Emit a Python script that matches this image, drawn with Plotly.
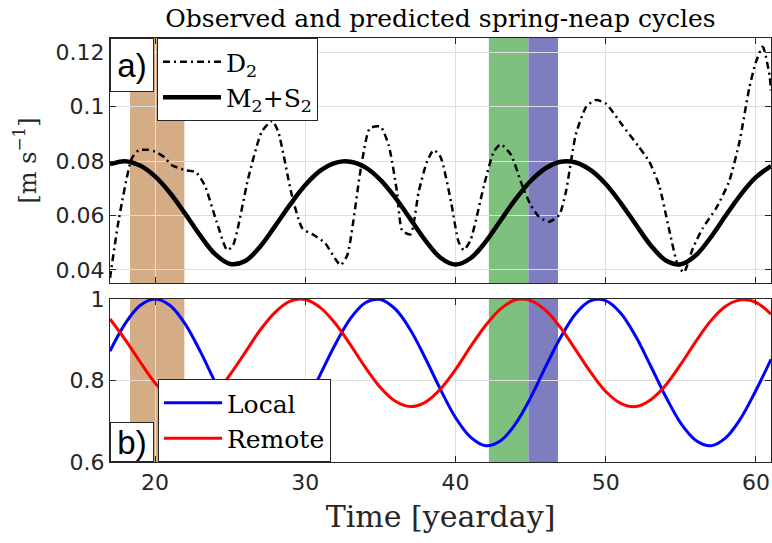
import plotly.graph_objects as go

# ---- data -------------------------------------------------------------
# Daily samples of the predicted spring-neap envelope and the two forcing indices
days = list(range(17, 62))
m2s2 = [0.0789, 0.0800, 0.0784, 0.0744, 0.0683, 0.0607, 0.0527, 0.0458, 0.0422,
        0.0433, 0.0486, 0.0562, 0.0641, 0.0712, 0.0765, 0.0794, 0.0798, 0.0777,
        0.0731, 0.0665, 0.0587, 0.0508, 0.0445, 0.0420, 0.0443, 0.0503, 0.0582,
        0.0660, 0.0727, 0.0774, 0.0798, 0.0795, 0.0767, 0.0716, 0.0646, 0.0567,
        0.0490, 0.0435, 0.0421, 0.0454, 0.0521, 0.0601, 0.0678, 0.0741, 0.0782]
local = [0.872, 0.939, 0.984, 1.000, 0.984, 0.939, 0.872, 0.796, 0.725, 0.670,
         0.642, 0.646, 0.681, 0.741, 0.815, 0.889, 0.952, 0.991, 0.999, 0.975,
         0.924, 0.854, 0.778, 0.709, 0.661, 0.640, 0.652, 0.694, 0.758, 0.834,
         0.906, 0.964, 0.996, 0.996, 0.965, 0.908, 0.835, 0.760, 0.695, 0.653,
         0.640, 0.660, 0.708, 0.776, 0.852]
remote = [0.951, 0.901, 0.846, 0.794, 0.755, 0.737, 0.742, 0.769, 0.815, 0.869,
          0.924, 0.968, 0.995, 0.999, 0.979, 0.940, 0.888, 0.832, 0.783, 0.749,
          0.736, 0.747, 0.779, 0.827, 0.883, 0.935, 0.976, 0.998, 0.996, 0.972,
          0.929, 0.875, 0.820, 0.773, 0.744, 0.736, 0.753, 0.789, 0.840, 0.896,
          0.947, 0.983, 0.998, 0.992, 0.963]

# Observed D2 amplitude
d2_day = [17.0, 17.6, 18.45, 18.9, 19.5, 20.0, 20.6, 21.1, 22.0, 22.7, 23.3,
          24.1, 24.8, 25.2, 26.2, 27.1, 27.8, 28.2, 29.1, 29.8, 30.55, 31.33,
          32.0, 32.35, 32.8, 33.7, 34.3, 35.0, 35.55, 36.1, 36.45, 37.0, 37.55,
          38.1, 38.55, 39.0, 39.7, 40.2, 40.55, 41.0, 41.9, 42.55, 43.0, 43.7,
          44.35, 45.0, 45.55, 46.2, 46.9, 47.35, 48.0, 48.7, 49.35, 50.0, 51.1,
          52.2, 52.9, 53.55, 54.2, 54.8, 55.2, 55.8, 56.45, 57.35, 58.2, 58.9,
          59.55, 60.0, 60.45, 60.9, 61.0]
d2_vel = [0.0370, 0.0590, 0.0810, 0.0840, 0.0842, 0.0835, 0.0815, 0.0786, 0.0767,
          0.0760, 0.0712, 0.0577, 0.0473, 0.0492, 0.0737, 0.0908, 0.0948, 0.0908,
          0.0676, 0.0553, 0.0529, 0.0498, 0.0440, 0.0418, 0.0455, 0.0774, 0.0921,
          0.0927, 0.0859, 0.0688, 0.0545, 0.0531, 0.0688, 0.0798, 0.0841, 0.0816,
          0.0651, 0.0504, 0.0473, 0.0510, 0.0712, 0.0835, 0.0862, 0.0823, 0.0724,
          0.0639, 0.0596, 0.0577, 0.0602, 0.0688, 0.0896, 0.1000, 0.1025, 0.1012,
          0.0933, 0.0853, 0.0798, 0.0712, 0.0553, 0.0418, 0.0391, 0.0480, 0.0553,
          0.0627, 0.0724, 0.0871, 0.1068, 0.1165, 0.1221, 0.1117, 0.1060]

# Highlighted time windows [yearday]
window_start = [18.33, 42.22, 44.85]
window_end = [21.95, 44.85, 46.82]

x_ticks = [20, 30, 40, 50, 60]
top_ticks = [0.04, 0.06, 0.08, 0.10, 0.12]
top_labels = ["0.04", "0.06", "0.08", "0.1", "0.12"]
bot_ticks = [0.6, 0.8, 1.0]
bot_labels = ["0.6", "0.8", "1"]

# ---- style ------------------------------------------------------------
window_colors = ["rgb(212,172,134)", "rgb(126,192,126)", "rgb(125,125,192)"]
AX = "#262626"
GRID = "#dedede"
SERIF = "DejaVu Serif"
SANS = "DejaVu Sans"

fig = go.Figure()

fig.add_trace(go.Scatter(
    x=d2_day, y=d2_vel, name="D<sub>2</sub>", mode="lines",
    line=dict(color="black", width=2.5, dash="7px,4px,2px,4px",
              shape="spline", smoothing=0.6),
    xaxis="x", yaxis="y", legend="legend", legendgroup="a1"))
fig.add_trace(go.Scatter(
    x=days, y=m2s2, name="M<sub>2</sub>+S<sub>2</sub>", mode="lines",
    line=dict(color="black", width=4.5, shape="spline"),
    xaxis="x", yaxis="y", legend="legend", legendgroup="a2"))
fig.add_trace(go.Scatter(
    x=days, y=local, name="Local", mode="lines",
    line=dict(color="rgb(0,0,255)", width=3, shape="spline"),
    xaxis="x2", yaxis="y2", legend="legend2", legendgroup="b1"))
fig.add_trace(go.Scatter(
    x=days, y=remote, name="Remote", mode="lines",
    line=dict(color="rgb(255,0,0)", width=3, shape="spline"),
    xaxis="x2", yaxis="y2", legend="legend2", legendgroup="b2"))

# shaded windows in both panels
for x0, x1, c in zip(window_start, window_end, window_colors):
    for xr, yr in (("x", "y domain"), ("x2", "y2 domain")):
        fig.add_shape(type="rect", xref=xr, yref=yr, x0=x0, x1=x1, y0=0, y1=1,
                      fillcolor=c, line_width=0, layer="below")

axis_common = dict(
    showline=True, linecolor=AX, linewidth=1.3, mirror="ticks",
    ticks="inside", ticklen=6, tickcolor=AX, tickwidth=1,
    showgrid=True, gridcolor=GRID, gridwidth=1, zeroline=False,
    tickfont=dict(family=SANS, size=22, color=AX),
)

legend_common = dict(
    xanchor="left", bgcolor="white", bordercolor=AX, borderwidth=1,
    font=dict(family=SERIF, size=25, color="black"),
    itemwidth=58, tracegroupgap=0,
)

fig.update_layout(
    width=772, height=543,
    margin=dict(l=110, r=1, t=38, b=81),
    paper_bgcolor="white", plot_bgcolor="white",
    title=dict(text="Observed and predicted spring-neap cycles",
               font=dict(family=SERIF, size=25, color="black"),
               x=0.5, xref="paper", xanchor="center",
               y=1 - 18 / 543, yref="container", yanchor="middle"),
    xaxis=dict(domain=[0, 1], anchor="y", range=[17, 61], tickvals=x_ticks,
               showticklabels=False, **axis_common),
    yaxis=dict(domain=[0.4222, 1], anchor="x", range=[0.0352, 0.1253],
               tickvals=top_ticks, ticktext=top_labels,
               title=dict(text="[m s<sup>−1</sup>]",
                          font=dict(family=SERIF, size=24, color=AX),
                          standoff=12),
               **axis_common),
    xaxis2=dict(domain=[0, 1], anchor="y2", range=[17, 61], tickvals=x_ticks,
                matches="x",
                title=dict(text="Time [yearday]",
                           font=dict(family=SERIF, size=30, color=AX),
                           standoff=12),
                **axis_common),
    yaxis2=dict(domain=[0, 0.3844], anchor="x2", range=[0.6, 1.0],
                tickvals=bot_ticks, ticktext=bot_labels, **axis_common),
    legend=dict(x=0.0711, y=1, yanchor="top", **legend_common),
    legend2=dict(x=0.0726, y=0, yanchor="bottom", **legend_common),
    showlegend=True,
)

# panel labels
fig.add_annotation(text="a)", xref="paper", yref="paper", x=0, y=1,
                   xanchor="left", yanchor="top", showarrow=False,
                   font=dict(family="Liberation Sans", size=33, color="black"),
                   width=42, height=52, borderpad=0, bgcolor="white",
                   bordercolor=AX, borderwidth=1)
fig.add_annotation(text="b)", xref="paper", yref="paper", x=0, y=0,
                   xanchor="left", yanchor="bottom", showarrow=False,
                   font=dict(family="Liberation Sans", size=33, color="black"),
                   width=42, height=38, borderpad=0, bgcolor="white",
                   bordercolor=AX, borderwidth=1)

fig.write_html("out.html")
